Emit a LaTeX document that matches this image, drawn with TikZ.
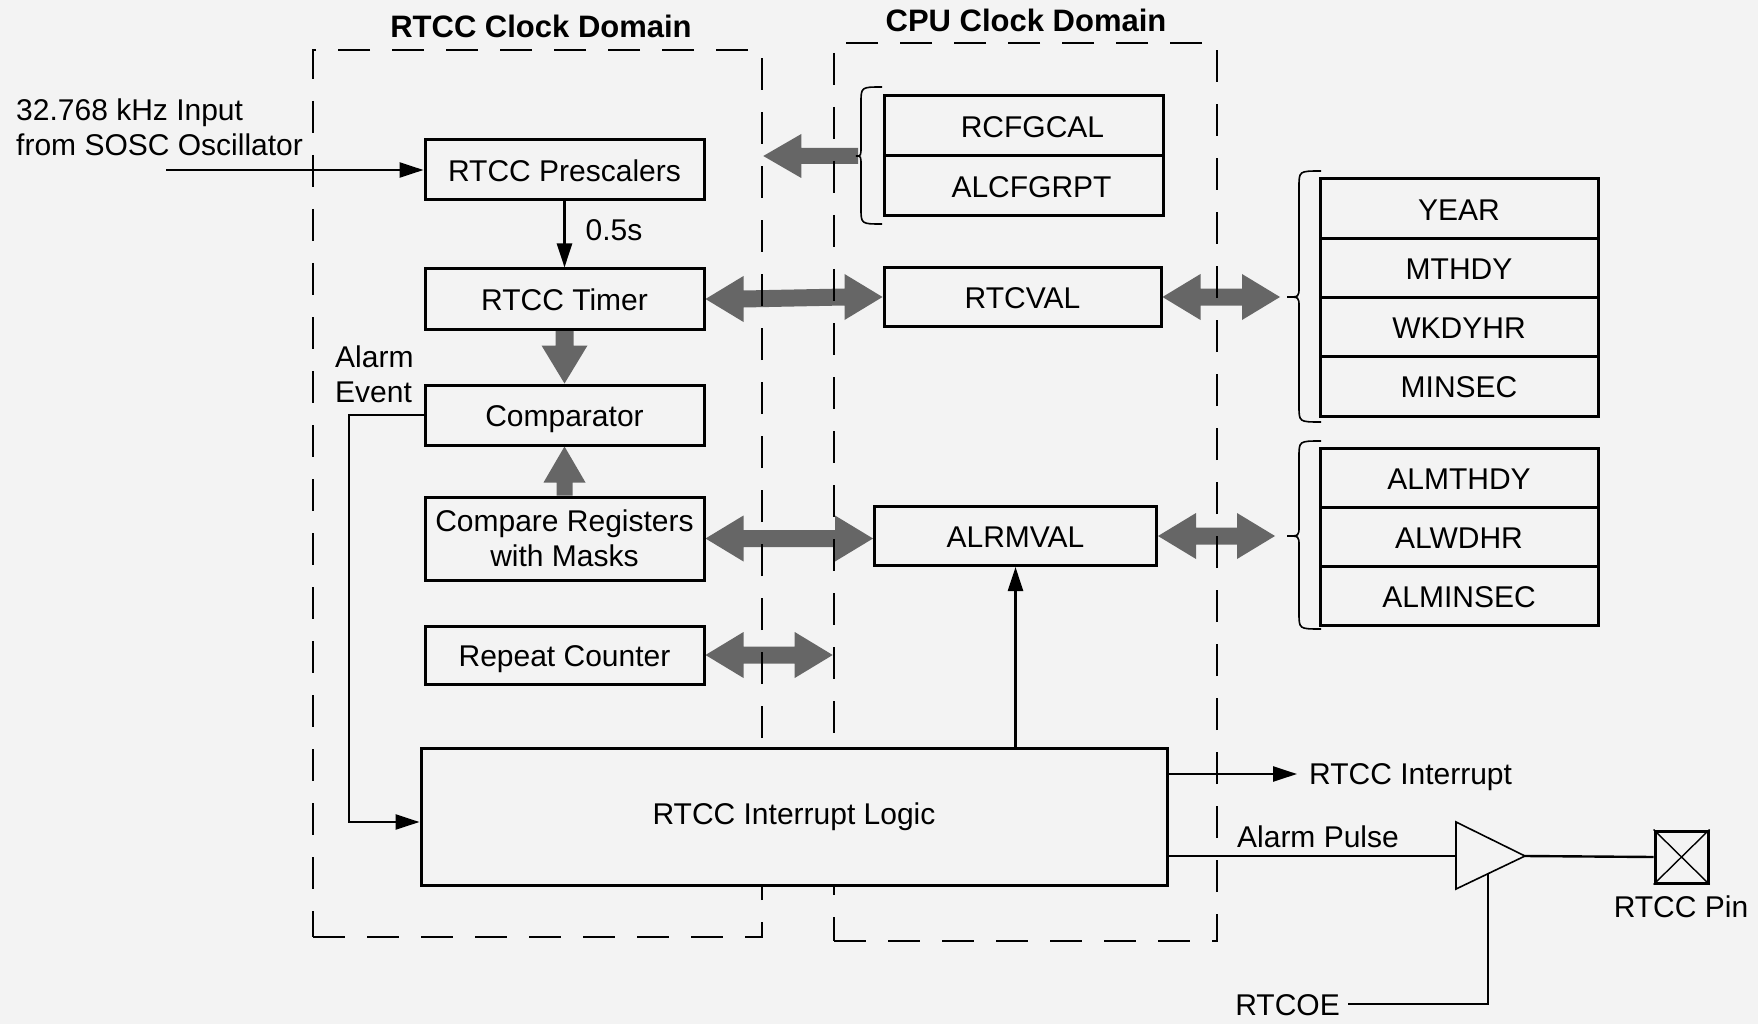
\documentclass[tikz,border=0pt]{standalone}
\usepackage{fontspec}
\setmainfont{Liberation Sans}
\usetikzlibrary{arrows.meta,calc}
\definecolor{bgc}{RGB}{243,243,243}
\definecolor{fatc}{RGB}{102,102,102}
\pgfdeclarelayer{bgl}\pgfdeclarelayer{fatl}\pgfdeclarelayer{doml}
\pgfsetlayers{bgl,fatl,doml,main}
% fat double-headed horizontal arrow from #1 (left tip) to #2 (right tip)
\newcommand{\dblfat}[2]{\fill[fatc] (#1) -- ++(38,-23) -- ++(0,14.5) -- ($(#2)+(-38,-8.5)$) -- ++(0,-14.5) -- (#2) -- ++(-38,23) -- ++(0,-14.5) -- ($(#1)+(38,8.5)$) -- ++(0,14.5) -- cycle;}
% fat single arrow downward: tail #1, tip #2 below
\newcommand{\fatdown}[2]{\fill[fatc] ($(#1)+(-9,0)$) -- ($(#2)+(-9,-38)$) -- ++(-14,0) -- (#2) -- ($(#2)+(23,-38)$) -- ++(-14,0) -- ($(#1)+(9,0)$) -- cycle;}
% fat single arrow upward: tail #1, tip #2 above
\newcommand{\fatup}[2]{\fill[fatc] ($(#1)+(-8,0)$) -- ($(#2)+(-8,36)$) -- ++(-13,0) -- (#2) -- ($(#2)+(21,36)$) -- ++(-13,0) -- ($(#1)+(8,0)$) -- cycle;}
% fat single arrow leftward: tail #1, tip #2 to the left
\newcommand{\fatleft}[2]{\fill[fatc] ($(#1)+(0,-8)$) -- ($(#2)+(38,-8)$) -- ++(0,-14) -- (#2) -- ($(#2)+(38,22)$) -- ++(0,-14) -- ($(#1)+(0,8)$) -- cycle;}
% curly brace: #1 end x, #2 arm x, #3 tip x, #4 top y, #5 bottom y, #6 middle y
\newcommand{\regbrace}[6]{\draw[brc] (#1,#4) .. controls (#2,#4) .. (#2,{#4+16}) -- (#2,{#6-10}) .. controls (#2,#6) .. (#3,#6) .. controls (#2,#6) .. (#2,{#6+10}) -- (#2,{#5-16}) .. controls (#2,#5) .. (#1,#5);}
\begin{document}
\begin{tikzpicture}[x=1pt,y=-1pt,font=\fontsize{30}{35}\selectfont]
\tikzset{
 blk/.style={draw, line width=3pt, fill=bgc, inner sep=0pt, minimum width=279pt, minimum height=60pt, align=center},
 one/.style={text height=23pt, text depth=0pt},
 wire/.style={line width=2.4pt},
 tarrow/.style={wire, -{Triangle[length=24pt,width=15pt]}},
 dombox/.style={draw, line width=2.6pt, dash pattern=on 32pt off 22pt, inner sep=0pt},
 domtitle/.style={font=\fontsize{31}{35}\selectfont\bfseries},
 lbl/.style={inner sep=0pt},
 brc/.style={line width=1.6pt},
}
\useasboundingbox (0,0) rectangle (1758,1024);
\begin{pgfonlayer}{bgl}
\fill[bgc] (0,0) rectangle (1758,1024);
\end{pgfonlayer}

% domains
\begin{pgfonlayer}{doml}
\node[dombox, minimum width=449pt, minimum height=887pt] (rtccdom) at (537.5,493.5) {};
\node[dombox, minimum width=383pt, minimum height=898pt] (cpudom) at (1025.5,492) {};
\end{pgfonlayer}
\node[domtitle] (rtcctitle) at (541,26) {RTCC Clock Domain};
\node[domtitle] (cputitle) at (1026,20) {CPU Clock Domain};

% RTCC blocks
\node[blk, one] (prescaler) at (564.5,170) {RTCC Prescalers};
\node[blk, one] (timer) at (564.5,299) {RTCC Timer};
\node[blk, one] (comparator) at (564.5,415) {Comparator};
\node[blk, minimum height=83pt] (cmpreg) at (564.5,538.5) {Compare Registers\\with Masks};
\node[blk, one, minimum height=58pt] (repeat) at (564.5,655) {Repeat Counter};
\node[blk, one, text depth=7pt, minimum width=746pt, minimum height=137pt] (intlogic) at (794,816.5) {RTCC Interrupt Logic};

% CPU registers
\node[blk, one] (rcfgcal) at (1023.5,126) {\hspace*{18pt}RCFGCAL};
\node[blk, one] (alcfgrpt) at (1023.5,186) {\hspace*{16pt}ALCFGRPT};
\node[blk, one, minimum width=277pt, minimum height=59pt] (rtcval) at (1022.5,297) {RTCVAL};
\node[blk, one, minimum width=282pt, minimum height=59pt] (alrmval) at (1015.5,536) {ALRMVAL};

% time registers
\node[blk, one, minimum width=278pt, minimum height=59.25pt] (year) at (1459,208.6) {YEAR};
\node[blk, one, minimum width=278pt, minimum height=59.25pt] (mthdy) at (1459,267.9) {MTHDY};
\node[blk, one, minimum width=278pt, minimum height=59.25pt] (wkdyhr) at (1459,327.1) {WKDYHR};
\node[blk, one, minimum width=278pt, minimum height=59.25pt] (minsec) at (1459,386.4) {MINSEC};
\node[blk, one, minimum width=278pt, minimum height=59pt] (almthdy) at (1459,477.5) {ALMTHDY};
\node[blk, one, minimum width=278pt, minimum height=59pt] (alwdhr) at (1459,536.5) {ALWDHR};
\node[blk, one, minimum width=278pt, minimum height=59pt] (alminsec) at (1459,595.5) {ALMINSEC};

% braces
\regbrace{882}{861}{856}{87}{224}{156}
\regbrace{1321}{1299}{1287}{171}{422}{297}
\regbrace{1321}{1299}{1287}{441}{629}{536}
\coordinate (b1tip) at (858,156);
\coordinate (b2tip) at (1280,297);
\coordinate (b3tip) at (1275,536);

% fat arrows
\begin{pgfonlayer}{fatl}
\dblfat{timer.east}{rtcval.west}
\dblfat{rtcval.east}{b2tip}
\dblfat{cmpreg.east}{alrmval.west |- cmpreg.east}
\dblfat{alrmval.east}{b3tip}
\dblfat{repeat.east}{cpudom.west |- repeat.east}
\fatdown{timer.south}{comparator.north}
\fatup{cmpreg.north}{comparator.south}
\fatleft{b1tip}{rtccdom.east |- b1tip}
\end{pgfonlayer}

% input
\node[lbl, anchor=west, align=left] (inputtxt) at (16,127.5) {32.768 kHz Input\\from SOSC Oscillator};
\coordinate (inp) at (166,170);
\draw[tarrow] (inp) -- (prescaler.west);
\draw[tarrow] (prescaler.south) -- (timer.north);
\node[lbl, one] (halfs) at (614,229) {0.5s};

% alarm event
\node[lbl, anchor=west, align=left] (aevtxt) at (335,374) {Alarm\\Event};
\coordinate (aev) at (349,822);
\draw[tarrow] (comparator.west) -| (aev) -- (intlogic.west |- aev);

% interrupt logic to ALRMVAL
\draw[tarrow] (intlogic.north -| alrmval.south) -- (alrmval.south);

% RTCC interrupt
\coordinate (irqend) at (1297,774);
\draw[tarrow] (intlogic.east |- irqend) -- (irqend);
\node[lbl, one, anchor=west] (irqtxt) at (1309,773) {RTCC Interrupt};

% alarm pulse and buffer
\coordinate (bufin) at (1456,856);
\coordinate (buftip) at (1525,856);
\draw[line width=1.6pt, fill=bgc] (1456,822) -- (buftip) -- (1456,889) -- cycle;
\draw[wire] (intlogic.east |- bufin) -- (bufin);
\node[lbl, one] (apulse) at (1318,836) {Alarm Pulse};

% pin
\node[draw, line width=3pt, minimum width=53pt, minimum height=52pt, inner sep=0pt] (pin) at (1681.5,857) {};
\draw[line width=1.4pt] (pin.north west) -- (pin.south east) (pin.north east) -- (pin.south west);
\draw[wire] (buftip) -- (pin.west);
\node[lbl, one] (pintxt) at (1681,906) {RTCC Pin};

% RTCOE
\coordinate (ctl) at (1488,874);
\node[lbl, one, anchor=east] (rtcoe) at (1340,1004) {RTCOE};
\draw[wire] (ctl) |- ([xshift=8pt]rtcoe.east);
\end{tikzpicture}
\end{document}
